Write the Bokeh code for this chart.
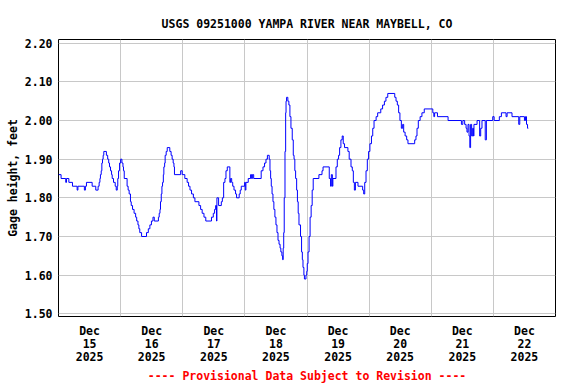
from bokeh.plotting import figure
from bokeh.models import Range1d, FixedTicker, Title, NumeralTickFormatter
from bokeh.embed import file_html
from bokeh.resources import INLINE

# hours since Dec 15 2025 00:00 and gage height (feet)
hours = [0.0, 1.0, 2.8, 3.1, 4.0, 5.4, 7.2, 7.5, 10.0, 10.4, 10.8, 13.0, 14.4, 15.3, 15.7, 16.0,
         16.2, 16.5, 16.75, 17.0, 17.25, 17.5, 18.5, 19.0, 19.4, 19.7, 20.1, 20.5, 20.75, 21.25,
         21.9, 22.3, 22.7, 22.9, 23.2, 23.6, 24.0, 24.5, 24.9, 25.1, 25.4, 26.5, 26.9, 27.3, 27.8,
         28.1, 28.6, 29.2, 29.8, 30.2, 30.7, 31.05, 31.4, 32.1, 34.0, 34.7, 35.3, 35.9, 36.5, 37.0,
         38.6, 38.9, 39.2, 39.4, 39.7, 39.95, 40.2, 40.5, 40.7, 41.0, 41.2, 41.6, 42.0, 43.0, 43.5,
         43.9, 44.3, 44.6, 44.8,
         47.2, 47.8, 48.8, 49.7, 50.25, 50.8, 51.4, 52.1, 52.7, 54.25, 54.9, 55.5, 56.2, 56.9, 59.1,
         59.8, 60.3, 60.7, 61.05, 61.2, 61.85, 62.9, 63.3, 63.8, 64.3, 64.7, 65.2, 66.2, 66.5, 66.9,
         67.3, 67.8, 68.4, 68.8, 69.8, 70.2, 70.6, 71.9, 72.15, 72.4, 73.3, 74.2, 74.6, 74.9, 75.4,
         78.3, 79.0, 79.6, 80.15, 80.7, 81.4, 81.7, 81.95, 82.2, 82.5, 82.85, 83.2, 83.6, 84.0, 84.4,
         84.8, 85.2, 85.6, 85.9, 86.3, 86.6, 86.8, 87.0, 87.2, 87.5, 87.75, 87.9, 88.1, 88.6, 89.0,
         89.4, 89.8, 90.3, 90.7, 91.0, 91.3, 91.6, 92.0, 92.3, 92.6, 92.9, 93.5, 93.9, 94.2, 94.45,
         94.8, 95.0, 95.6, 95.9, 96.1, 96.4, 96.8, 97.2, 97.6, 98.0,
         98.4, 100.6, 101.8, 102.2, 104.6, 105.1, 105.4, 105.8, 106.0, 107.2, 107.7, 108.2, 108.6,
         109.1, 109.6, 110.0, 110.5, 111.8, 112.3, 113.0, 113.5, 113.9, 114.3, 114.7, 115.7, 117.5,
         117.9, 118.3, 118.8, 119.3, 119.8, 120.3, 120.9, 121.4, 121.9, 122.7, 123.3, 124.5, 125.2,
         125.9, 126.5, 127.2, 129.9, 130.4, 130.9, 131.4, 131.9, 132.45, 132.95, 133.35, 133.9,
         134.5, 135.0, 137.6, 138.1, 138.5, 139.0, 139.7, 140.4, 141.3,
         144.6, 145.0, 145.3, 146.4, 150.5, 155.65, 156.2, 156.9, 157.45, 157.8, 158.2, 158.6,
         158.9, 159.2, 159.6, 160.0, 160.3, 160.5, 161.7, 162.7, 163.1, 163.6, 164.85, 165.3,
         167.75, 168.3, 170.3, 171.1, 172.9, 173.3, 175.2, 177.8, 178.2, 180.0, 180.4, 180.8,
         181.2, 181.5]

gage = [1.86, 1.85, 1.84, 1.85, 1.84, 1.83, 1.82, 1.83, 1.82, 1.83, 1.84, 1.83, 1.82, 1.83, 1.84, 1.85,
        1.86, 1.87, 1.89, 1.90, 1.91, 1.92, 1.91, 1.90, 1.89, 1.88, 1.87, 1.86, 1.85, 1.84,
        1.83, 1.82, 1.83, 1.85, 1.87, 1.89, 1.90, 1.89, 1.88, 1.87, 1.85, 1.83, 1.82, 1.81, 1.79,
        1.78, 1.77, 1.76, 1.75, 1.74, 1.73, 1.72, 1.71, 1.70, 1.71, 1.72, 1.73, 1.74, 1.75, 1.74,
        1.75, 1.76, 1.77, 1.79, 1.81, 1.83, 1.84, 1.86, 1.88, 1.89, 1.91, 1.92, 1.93, 1.92, 1.91,
        1.90, 1.89, 1.88, 1.86,
        1.87, 1.86, 1.85, 1.84, 1.83, 1.82, 1.81, 1.80, 1.79, 1.78, 1.77, 1.76, 1.75, 1.74, 1.75,
        1.76, 1.77, 1.78, 1.74, 1.80, 1.78, 1.79, 1.80, 1.84, 1.85, 1.87, 1.88, 1.84, 1.85, 1.84,
        1.83, 1.82, 1.81, 1.80, 1.81, 1.82, 1.83, 1.84, 1.82, 1.84, 1.85, 1.86, 1.85, 1.86, 1.85,
        1.87, 1.88, 1.89, 1.90, 1.91, 1.90, 1.87, 1.85, 1.83, 1.81, 1.79, 1.77, 1.75, 1.73, 1.71,
        1.69, 1.68, 1.67, 1.66, 1.65, 1.64, 1.67, 1.71, 1.80, 1.92, 2.02, 2.05, 2.06, 2.05, 2.04,
        2.01, 1.98, 1.95, 1.91, 1.90, 1.87, 1.85, 1.82, 1.79, 1.76, 1.73, 1.70, 1.66, 1.64, 1.62,
        1.60, 1.59, 1.60, 1.61, 1.63, 1.66, 1.70, 1.75, 1.78, 1.82,
        1.85, 1.86, 1.87, 1.88, 1.85, 1.83, 1.86, 1.83, 1.85, 1.88, 1.90, 1.91, 1.93,
        1.95, 1.96, 1.94, 1.93, 1.92, 1.90, 1.88, 1.87, 1.84, 1.82, 1.84, 1.83, 1.82,
        1.81, 1.84, 1.87, 1.90, 1.92, 1.94, 1.96, 1.98, 2.00, 2.01, 2.02, 2.03, 2.04,
        2.05, 2.06, 2.07, 2.06, 2.05, 2.04, 2.02, 2.00, 1.98, 1.99, 1.97, 1.96,
        1.95, 1.94, 1.95, 1.96, 1.98, 2.00, 2.01, 2.02, 2.03,
        2.02, 2.01, 2.02, 2.01, 2.00, 1.99, 2.00, 1.99, 1.98, 1.97, 1.99, 1.96,
        1.93, 1.99, 1.96, 1.98, 1.96, 1.99, 2.00, 1.96, 1.98, 2.00, 1.95, 2.00,
        2.01, 2.00, 2.01, 2.02, 2.01, 2.02, 2.01, 1.99, 2.01, 2.00, 2.01, 1.99,
        1.98, 1.98]

day_labels = ["15", "16", "17", "18", "19", "20", "21", "22"]
month_label = "Dec"
year_label = "2025"
y_ticks = [1.5, 1.6, 1.7, 1.8, 1.9, 2.0, 2.1, 2.2]

FONT = "DejaVu Sans Mono"
FS = "11.5px"

p = figure(width=576, height=384, output_backend="svg", toolbar_location=None,
           x_range=Range1d(0, 192), y_range=Range1d(1.493, 2.2096),
           min_border_left=58, min_border_right=21, min_border_top=39, min_border_bottom=68,
           background_fill_color="white", border_fill_color="white")

p.step(hours, gage, mode="after", line_color="#0000ff", line_width=1)

p.title.text = "USGS 09251000 YAMPA RIVER NEAR MAYBELL, CO"
p.title.align = "center"
p.title.text_font = FONT
p.title.text_font_size = FS
p.title.text_font_style = "bold"
p.title.text_color = "black"
p.title.standoff = 17

p.outline_line_color = "black"
p.outline_line_width = 1
p.outline_line_alpha = 1

# y axis
p.yaxis.ticker = FixedTicker(ticks=y_ticks)
p.yaxis.formatter = NumeralTickFormatter(format="0.00")
p.yaxis.axis_label = "Gage height, feet"
p.yaxis.axis_label_text_font = FONT
p.yaxis.axis_label_text_font_size = FS
p.yaxis.axis_label_text_font_style = "bold"
p.yaxis.axis_label_text_color = "black"
p.yaxis.axis_label_standoff = 2

# x axis: labels at noon of each day, grid at midnights
tick_pos = [12 + 24 * i for i in range(len(day_labels))]
p.xaxis.ticker = FixedTicker(ticks=tick_pos)
p.xaxis.major_label_overrides = {t: f"{month_label}\n{d}\n{year_label}" for t, d in zip(tick_pos, day_labels)}
p.xaxis.major_label_text_line_height = 0.93

for ax in (p.xaxis, p.yaxis):
    ax.major_label_text_font = FONT
    ax.major_label_text_font_size = FS
    ax.major_label_text_font_style = "bold"
    ax.major_label_text_color = "black"
    ax.major_tick_line_color = None
    ax.minor_tick_line_color = None
    ax.major_tick_out = 0
    ax.major_tick_in = 0
    ax.minor_tick_out = 0
    ax.minor_tick_in = 0
    ax.axis_line_color = None
p.yaxis.major_label_standoff = 6
p.xaxis.major_label_standoff = 7

p.xgrid.ticker = FixedTicker(ticks=[24 * i for i in range(1, 8)])
p.xgrid.grid_line_color = "#c8c8c8"
p.ygrid.grid_line_color = "#c8c8c8"
p.xgrid.grid_line_width = 1
p.ygrid.grid_line_width = 1

footer = Title(text="---- Provisional Data Subject to Revision ----", align="center",
               text_color="red", text_font=FONT, text_font_size=FS, text_font_style="bold",
               standoff=0)
p.add_layout(footer, "below")

open("out.html", "w").write(file_html(p, INLINE))
